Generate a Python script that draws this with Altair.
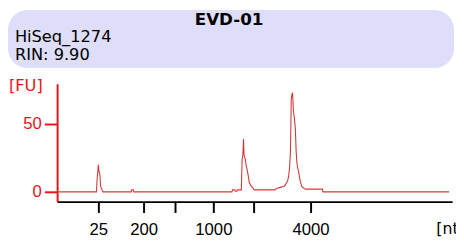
import altair as alt
import pandas as pd

# Electropherogram trace: migration time [s] and fluorescence [FU]
time_s = [19.00, 23.98, 24.07, 24.14, 24.22, 24.31, 24.41, 24.51, 24.66, 24.78,
          28.39, 28.45, 28.64, 28.70,
          41.14, 41.20, 41.51, 41.57, 41.76, 41.82, 42.32, 42.42, 42.51, 42.60,
          42.67, 42.82, 42.94, 43.07, 43.19, 43.32, 43.50, 43.69, 43.88, 44.00,
          46.61, 46.74, 47.36, 47.73, 47.92, 48.17, 48.29, 48.42, 48.54, 48.64,
          48.73, 48.81, 48.91, 49.04, 49.16, 49.26, 49.35, 49.45, 49.60, 49.72,
          49.85, 49.97, 50.28, 50.47, 52.58, 52.64, 68.63]
fu = [0, 0, 10, 14, 20, 15, 13, 4, 2, 0,
      0, 1.5, 1.5, 0,
      0, 1.5, 1.5, 0.5, 0.5, 1.5, 1.5, 24, 27, 39,
      27, 24, 19, 16, 12, 7, 5, 3.5, 2, 1.5,
      1.5, 2.5, 3.5, 4, 5.5, 8, 11, 17, 30, 68,
      72, 73, 60, 54, 47, 30, 22, 18, 14, 9.5,
      6.5, 4, 2.5, 2, 2, 0, 0]

# Axis ticks: time positions and their size ladder labels (nt)
tick_times = [24.22, 29.95, 33.93, 38.78, 43.88, 51.09]
tick_labels = ["25", "200", "", "1000", "", "4000"]
y_ticks = [0, 50]

sample_name = "EVD-01"
info_lines = ["HiSeq_1274", "RIN: 9.90"]

RED = "#e8141c"
LINE = "#d23a3a"

df = pd.DataFrame({"t": time_s, "fu": fu})
one = pd.DataFrame({"a": [0]})

label_expr = " : ".join(
    f"abs(datum.value - {t}) < 0.005 ? '{l}'" for t, l in zip(tick_times, tick_labels)
) + " : ''"

x_scale = alt.Scale(domain=[19, 69], nice=False, zero=False)
y_scale = alt.Scale(domain=[-7.2, 79.7], nice=False, zero=False)

trace = alt.Chart(df).mark_line(color=LINE, strokeWidth=1.1, interpolate="linear").encode(
    x=alt.X("t:Q", scale=x_scale, axis=alt.Axis(
        values=tick_times, labelExpr=label_expr, title=None, grid=False,
        domainColor="black", domainWidth=2, tickColor="black", tickWidth=2,
        tickSize=11, labelColor="black", labelFont="Liberation Sans",
        labelFontSize=17, labelPadding=9, labelFlush=False, labelOverlap=False)),
    y=alt.Y("fu:Q", scale=y_scale, axis=alt.Axis(
        values=y_ticks, title=None, grid=False,
        domainColor=RED, domainWidth=2, tickColor=RED, tickWidth=2,
        tickSize=13, labelColor=RED, labelFont="Liberation Sans",
        labelFontSize=17, labelPadding=3)),
)

box = alt.Chart(one).mark_rect(color="#dedefa", cornerRadius=20).encode(
    x=alt.value(-50), x2=alt.value(404), y=alt.value(-75), y2=alt.value(-16))

title = alt.Chart(one).mark_text(text=sample_name, font="DejaVu Sans", fontWeight="bold",
                                 fontSize=17, align="center", baseline="alphabetic",
                                 color="black").encode(x=alt.value(175), y=alt.value(-60))
line1 = alt.Chart(one).mark_text(text=info_lines[0], font="DejaVu Sans", fontSize=16.5,
                                 align="left", baseline="alphabetic",
                                 color="black").encode(x=alt.value(-43), y=alt.value(-42))
line2 = alt.Chart(one).mark_text(text=info_lines[1], font="DejaVu Sans", fontSize=16.5,
                                 align="left", baseline="alphabetic",
                                 color="black").encode(x=alt.value(-43), y=alt.value(-24))
fu_lab = alt.Chart(one).mark_text(text="[FU]", font="DejaVu Sans", fontSize=16.5,
                                  align="left", baseline="alphabetic",
                                  color=RED).encode(x=alt.value(-49), y=alt.value(7))
nt_lab = alt.Chart(one).mark_text(text="[nt]", font="DejaVu Sans", fontSize=16,
                                  align="left", baseline="alphabetic",
                                  color="black").encode(x=alt.value(386), y=alt.value(153))

chart = alt.layer(box, title, line1, line2, fu_lab, nt_lab, trace).properties(
    width=402, height=120,
    autosize=alt.AutoSizeParams(type="none"),
    padding={"left": 50, "top": 75, "right": 4, "bottom": 40},
).configure_view(stroke=None)

chart.save("out.html", embed_options={"renderer": "svg", "actions": False})
